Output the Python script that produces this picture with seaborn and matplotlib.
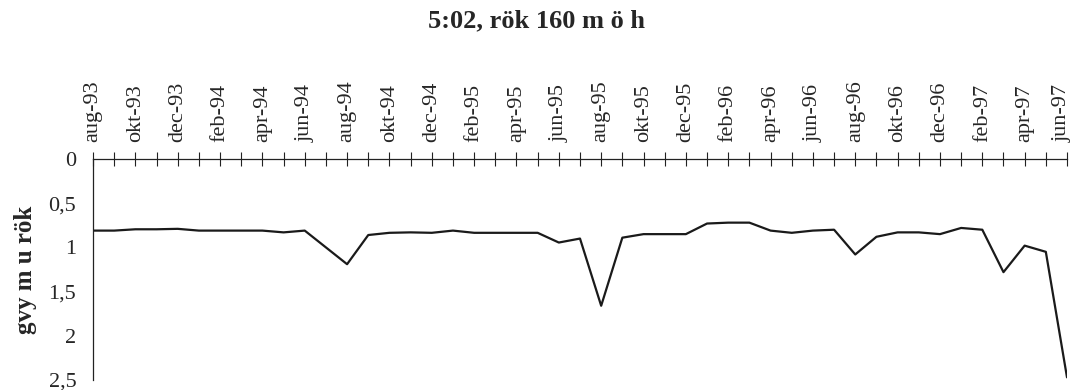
import matplotlib
matplotlib.use("Agg")
import matplotlib.pyplot as plt
import matplotlib.transforms as mtransforms
import seaborn as sns
import pandas as pd
import numpy as np

# Monthly readings, aug-93 .. jun-97 (groundwater level, m below pipe top)
months = [
    "aug-93", "sep-93", "okt-93", "nov-93", "dec-93",
    "jan-94", "feb-94", "mar-94", "apr-94", "maj-94", "jun-94", "jul-94",
    "aug-94", "sep-94", "okt-94", "nov-94", "dec-94",
    "jan-95", "feb-95", "mar-95", "apr-95", "maj-95", "jun-95", "jul-95",
    "aug-95", "sep-95", "okt-95", "nov-95", "dec-95",
    "jan-96", "feb-96", "mar-96", "apr-96", "maj-96", "jun-96", "jul-96",
    "aug-96", "sep-96", "okt-96", "nov-96", "dec-96",
    "jan-97", "feb-97", "mar-97", "apr-97", "maj-97", "jun-97",
]
level = [
    0.81, 0.81, 0.795, 0.795, 0.79,
    0.81, 0.81, 0.81, 0.81, 0.83, 0.81, 1.00,
    1.19, 0.86, 0.835, 0.83, 0.835,
    0.81, 0.835, 0.835, 0.835, 0.835, 0.945, 0.90,
    1.66, 0.89, 0.85, 0.85, 0.85,
    0.73, 0.72, 0.72, 0.81, 0.835, 0.81, 0.80,
    1.08, 0.88, 0.83, 0.83, 0.85,
    0.78, 0.80, 1.28, 0.98, 1.05, 2.47,
]
# Every second month carries a label
tick_labels = [m if i % 2 == 0 else "" for i, m in enumerate(months)]
y_ticks = [0, 0.5, 1, 1.5, 2, 2.5]
y_tick_labels = ["0", "0,5", "1", "1,5", "2", "2,5"]

df = pd.DataFrame({"idx": np.arange(len(months)), "level": level})

sns.set_style("white")
plt.rcParams["font.family"] = ["Liberation Serif", "DejaVu Serif"]

fig = plt.figure(figsize=(10.74, 3.9), dpi=100)
ax = fig.add_axes([93 / 1074, 1 - 380 / 390, (1067 - 93) / 1074, (380 - 159) / 390])

sns.lineplot(data=df, x="idx", y="level", ax=ax, color="#1a1a1a", linewidth=1.6)

ax.set_xlim(0, len(months) - 1)
ax.set_ylim(2.5, 0)

ax.xaxis.tick_top()
ax.set_xticks(df["idx"])
ax.set_xticklabels(tick_labels, rotation=90, fontsize=16)
ax.set_yticks(y_ticks)
ax.set_yticklabels(y_tick_labels, fontsize=16)
ax.tick_params(axis="x", direction="inout", length=10, width=0.8, pad=7, color="#222222")
ax.tick_params(axis="y", direction="inout", length=10, width=0.8, pad=7, color="#222222")

# keep the last month label inside the figure edge
last = ax.get_xticklabels()[-1]
last.set_transform(last.get_transform()
                   + mtransforms.ScaledTranslation(-5 / 100, 0, fig.dpi_scale_trans))

for side in ["right", "bottom"]:
    ax.spines[side].set_visible(False)
for side in ["top", "left"]:
    ax.spines[side].set_color("#222222")
    ax.spines[side].set_linewidth(0.9)

ax.set_xlabel("")
ax.set_ylabel("gvy m u rök", fontsize=18, fontweight="bold", labelpad=8)

fig.text(0.5, 1 - 21 / 390, "5:02, rök 160 m ö h", ha="center", va="center",
         fontsize=19, fontweight="bold")

fig.savefig("out.png", dpi=100, facecolor="white")
